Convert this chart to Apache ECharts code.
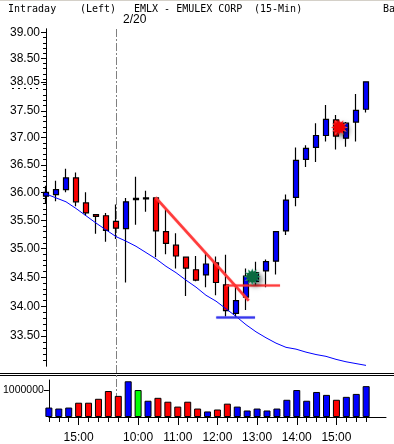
<!DOCTYPE html>
<html><head><meta charset="utf-8">
<style>html,body{margin:0;padding:0;background:#fff;overflow:hidden}#c{width:394px;height:444px}</style>
<script src="https://cdn.jsdelivr.net/npm/echarts@6/dist/echarts.min.js"></script>
</head><body><div id="c"></div>
<script>
const times=['14:15','14:30','14:45','15:00','15:15','15:30','15:45','09:30','09:45','10:00','10:15','10:30','10:45','11:00','11:15','11:30','11:45','12:00','12:15','12:30','12:45','13:00','13:15','13:30','13:45','14:00','14:15','14:30','14:45','15:00','15:15','15:30','15:45','',''];
const opens=[35.93,35.96,36.05,36.26,35.81,35.60,35.58,35.48,35.35,35.87,35.88,35.90,35.30,35.06,34.85,34.63,34.54,34.75,34.37,33.88,34.16,34.43,34.61,34.78,35.31,35.91,36.60,36.82,37.04,37.33,36.99,37.29,37.53];
const closes=[36.00,36.05,36.26,35.83,35.63,35.57,35.32,35.36,35.83,35.89,35.90,35.31,35.09,34.87,34.66,34.45,34.73,34.41,33.93,34.10,34.52,34.58,34.77,35.30,35.86,36.58,36.80,37.04,37.34,37.03,37.27,37.51,38.05];
const lows=[35.80,35.84,36.00,35.75,35.58,35.26,35.12,35.17,34.41,35.42,35.65,34.85,34.90,34.65,34.18,34.43,34.33,34.19,33.83,33.81,33.94,34.35,34.33,34.55,35.24,35.75,36.46,36.55,36.93,36.78,36.83,36.93,37.47];
const highs=[36.12,36.21,36.43,36.36,36.00,35.60,35.63,35.78,35.90,36.28,36.03,35.91,35.69,35.27,34.86,34.87,34.93,34.86,34.89,34.35,34.65,34.77,34.81,35.30,35.96,36.82,36.86,37.27,37.61,37.42,37.29,37.82,38.05];
const average=[35.97,35.90,35.83,35.71,35.58,35.45,35.33,35.21,35.13,35.04,34.93,34.82,34.69,34.58,34.45,34.33,34.19,34.09,33.96,33.83,33.69,33.57,33.47,33.38,33.31,33.28,33.23,33.19,33.16,33.11,33.07,33.04,33.01];
const volumes=[350000,314000,350000,530000,530000,675000,964000,783000,1325000,1000000,603000,711000,567000,386000,567000,314000,206000,278000,495000,386000,242000,314000,242000,314000,639000,1000000,603000,928000,820000,639000,747000,856000,1144000];
const volumeColors=['b','b','b','r','r','r','r','r','b','g','b','r','r','r','r','r','b','r','r','b','b','b','b','b','b','b','b','b','b','r','b','b','b'];
const majorTimeIndex=[3,9,13,17,21,25,29];
const priceLabels=[39,38.5,38.05,37.5,37,36.5,36,35.5,35,34.5,34,33.5];
const priceMinor=[39,38.9,38.8,38.7,38.6,38.5,38.4,38.3,38.2,38.1,38,37.9,37.8,37.7,37.6,37.5,37.4,37.3,37.2,37.1,37,36.9,36.8,36.7,36.6,36.5,36.4,36.3,36.2,36.1,36,35.9,35.8,35.7,35.6,35.5,35.4,35.3,35.2,35.1,35,34.9,34.8,34.7,34.6,34.5,34.4,34.3,34.2,34.1,34,33.9,33.8,33.7,33.6,33.5,33.4,33.3,33.2,33.1];
const trendDown=[[10.95,35.91],[20.27,34.10]];
const resistance=[[18.0,34.36],[23.4,34.36]];
const support=[[17.03,33.81],[20.9,33.81]];
const greenStar=[[20.63,34.51]];
const redStar=[[29.33,37.19]];
const dayBreakIndex=7;
const lastPrice=38.05;

const colorMap={b:'#0000ff',r:'#ff0000',g:'#00ff00'};
const monoFont='"DejaVu Sans Mono"';
const numFont='"Liberation Sans"';
const starPts=[];
for(let k=0;k<24;k++){const r=k%2?30:50,a=k*Math.PI/12;starPts.push((50+r*Math.cos(a)).toFixed(1)+','+(50+r*Math.sin(a)).toFixed(1));}
const starPath='path://M'+starPts.join(' L')+' Z';
const chart=echarts.init(document.getElementById('c'),null,{renderer:'canvas'});
const head=(text,left,top,font,size)=>({text,left,top,padding:0,textStyle:{fontFamily:font||monoFont,fontSize:size||10,fontWeight:'normal',color:'#000'}});
const annLine=(data,color,width)=>({type:'line',data,xAxisIndex:3,yAxisIndex:0,symbol:'none',clip:false,z:6,silent:true,
  lineStyle:{color,width,shadowColor:color,shadowBlur:1}});
const star=(data,c0,c1)=>({type:'scatter',data,xAxisIndex:3,yAxisIndex:0,symbol:starPath,symbolSize:17,clip:false,z:7,silent:true,
  itemStyle:{opacity:1,color:{type:'radial',x:.5,y:.5,r:.5,colorStops:[{offset:0,color:c0},{offset:.6,color:c0},{offset:1,color:c1}]},shadowColor:'rgba(0,0,0,.55)',shadowBlur:5,shadowOffsetX:3,shadowOffsetY:3}});
const logAxisBase={type:'log',gridIndex:0,position:'left',min:33,max:39.07,logBase:10,splitLine:{show:false},minorTick:{show:false},minorSplitLine:{show:false},
  axisLine:{show:true,onZero:false,lineStyle:{color:'#000',width:1}}};
chart.setOption({
  animation:false,backgroundColor:'#fff',
  title:[head('Intraday',8,4),head('(Left)',80,4),head('EMLX - EMULEX CORP',134,4),head('(15-Min)',254,4),head('Ba',383,4),head('2/20',123,14,numFont,12)],
  grid:[{left:46,top:29,width:340,height:337},{left:46,top:380,width:340,height:38}],
  xAxis:[
    {type:'category',gridIndex:0,data:times,boundaryGap:false,show:false},
    {type:'category',gridIndex:1,data:times,boundaryGap:false,containShape:false,
      axisLine:{lineStyle:{color:'#000'}},splitLine:{show:false},
      axisTick:{length:5,lineStyle:{color:'#000'},interval:i=>i<volumes.length},axisLabel:{show:false}},
    {type:'category',gridIndex:1,data:times,boundaryGap:false,containShape:false,position:'bottom',
      axisLine:{show:false},splitLine:{show:false},
      axisTick:{length:8,lineStyle:{color:'#000'},interval:i=>majorTimeIndex.includes(i)},
      axisLabel:{interval:i=>majorTimeIndex.includes(i),margin:15,fontFamily:numFont,fontSize:12,color:'#000',
        formatter:v=>v.replace(/^0/,'')}},
    {type:'value',gridIndex:0,min:0,max:34,show:false,splitLine:{show:false}}
  ],
  yAxis:[
    Object.assign({},logAxisBase,{
      axisTick:{show:true,length:5,customValues:priceLabels,lineStyle:{color:'#000'}},
      axisLabel:{customValues:priceLabels,margin:6,fontFamily:numFont,fontSize:12,color:'#000',formatter:v=>Number(v).toFixed(2),showMinLabel:true,showMaxLabel:true}}),
    Object.assign({},logAxisBase,{
      axisTick:{show:true,length:3,customValues:priceMinor,lineStyle:{color:'#000'}},
      axisLabel:{show:false}}),
    {type:'value',gridIndex:1,min:0,max:1372000,splitLine:{show:false},
      axisLine:{show:true,onZero:false,lineStyle:{color:'#000'}},
      axisTick:{show:true,length:5,customValues:[1000000],lineStyle:{color:'#000'}},
      axisLabel:{customValues:[1000000],margin:5,fontFamily:numFont,fontSize:10.5,color:'#000',formatter:v=>String(v)}}
  ],
  series:[
    {type:'candlestick',xAxisIndex:0,yAxisIndex:0,barWidth:5,z:3,
      data:opens.map((o,i)=>[o,closes[i],lows[i],highs[i]]),
      itemStyle:{color:'#0000ff',color0:'#ff0000',borderColor:'#000',borderColor0:'#000',borderWidth:1.2}},
    {type:'line',data:average,xAxisIndex:0,yAxisIndex:0,symbol:'none',z:4,lineStyle:{color:'#0000ff',width:1}},
    annLine(trendDown,'rgba(255,50,50,.85)',2.5),
    annLine(resistance,'rgba(255,50,50,.85)',2),
    annLine(support,'rgba(50,50,235,.9)',2),
    star(greenStar,'#0a6a40','#40c090'),
    star(redStar,'#f00000','#ff9090'),
    {type:'bar',xAxisIndex:1,yAxisIndex:2,barWidth:7,z:3,
      data:volumes.map((v,i)=>({value:v,itemStyle:{color:colorMap[volumeColors[i]]}})),
      itemStyle:{borderColor:'#000',borderWidth:1}}
  ]
});
const bx=Math.round(chart.convertToPixel({xAxisIndex:0},dayBreakIndex))+0.5;
const ly=chart.convertToPixel({yAxisIndex:0},lastPrice);
chart.setOption({graphic:[
  {type:'rect',shape:{x:0,y:0,width:394,height:1},style:{fill:'#d4d0c8'},z:0},
  {type:'line',shape:{x1:0,y1:373.5,x2:394,y2:373.5},style:{stroke:'#000',lineWidth:1},z:0},
  {type:'line',shape:{x1:0,y1:375.5,x2:394,y2:375.5},style:{stroke:'#000',lineWidth:1},z:0},
  {type:'line',shape:{x1:bx,y1:29,x2:bx,y2:418},style:{stroke:'#808080',lineWidth:1,lineDash:[8,2,2,2]},z:0},
  {type:'line',shape:{x1:12,y1:Math.round(ly)+6.5,x2:42,y2:Math.round(ly)+6.5},style:{stroke:'#000',lineWidth:1,lineDash:[2,4]},z:0}
]});
</script></body></html>
